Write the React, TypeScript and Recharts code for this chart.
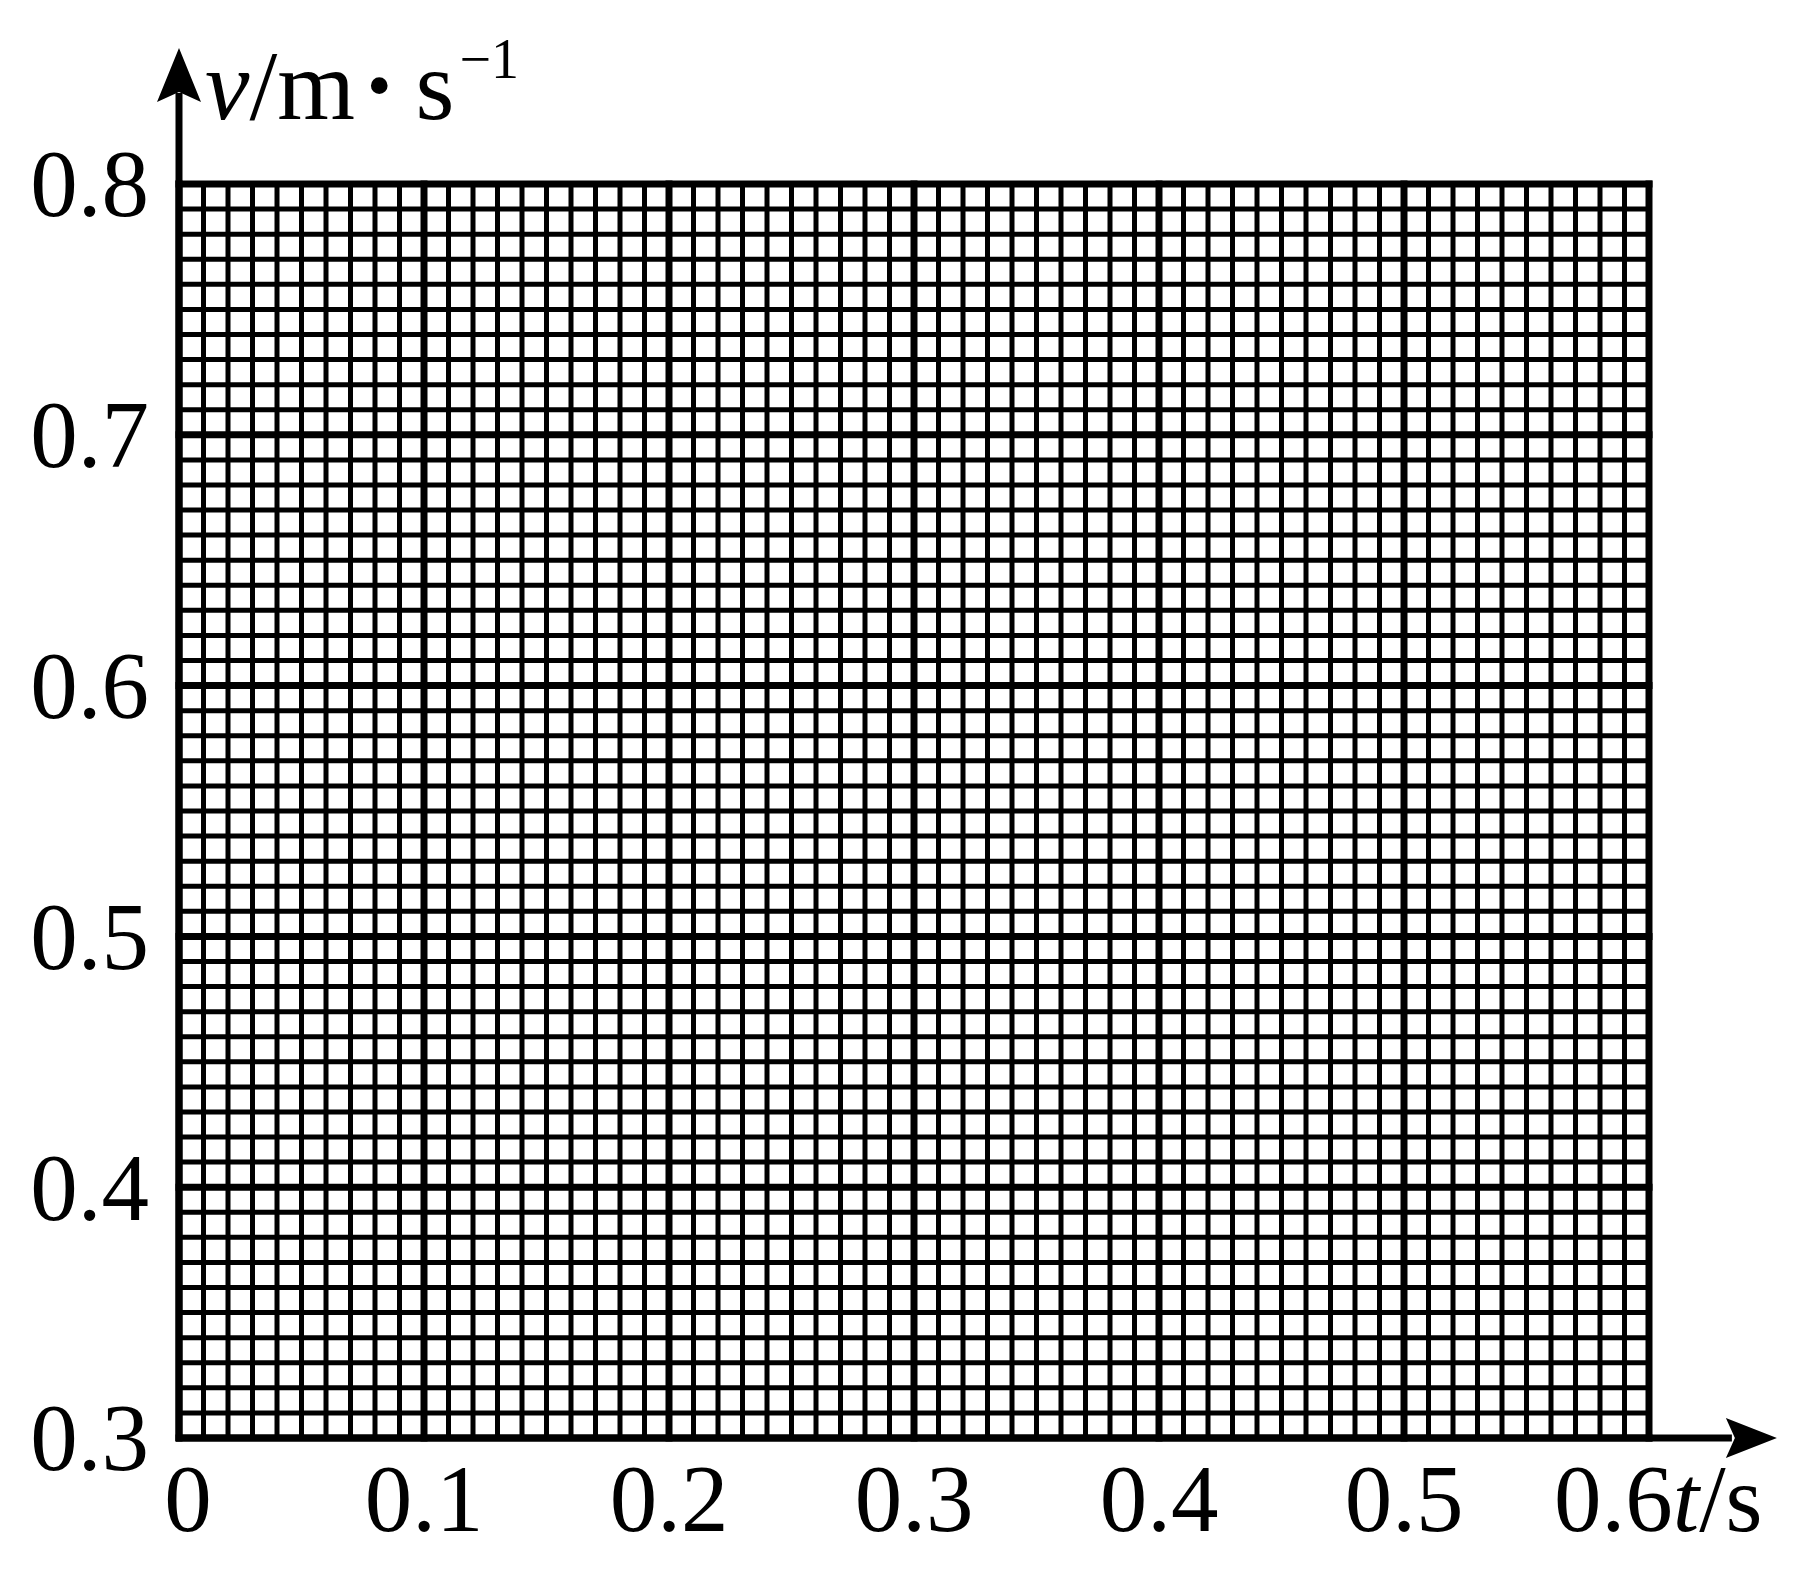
import React from 'react';
import { ComposedChart, XAxis, YAxis, ReferenceLine } from 'recharts';

// Axis tick labels (major divisions)
const xTicks = [0, 0.1, 0.2, 0.3, 0.4, 0.5, 0.6];
const yTicks = [0.3, 0.4, 0.5, 0.6, 0.7, 0.8];
const xDomain: [number, number] = [0, 0.6];
const yDomain: [number, number] = [0.3, 0.8];
// Minor grid step (one small square)
const xMinorStep = 0.01;
const yMinorStep = 0.01;
// Arrow tips of the axes, in data units
const xArrowEnd = 0.6522;
const yArrowEnd = 0.8542;

const round = (v: number) => Math.round(v * 1000) / 1000;
const xMinor = Array.from({ length: Math.round((xDomain[1] - xDomain[0]) / xMinorStep) + 1 }, (_, i) => round(xDomain[0] + i * xMinorStep));
const yMinor = Array.from({ length: Math.round((yDomain[1] - yDomain[0]) / yMinorStep) + 1 }, (_, i) => round(yDomain[0] + i * yMinorStep));

const FONT = '"Liberation Serif", "Times New Roman", serif';
const INK = '#000';
const FS = 95;

const XTick = (props: any) => {
  const { x, y, payload } = props;
  const v = payload.value as number;
  const base = y + 93;
  if (Math.abs(v - 0.6) < 1e-9) {
    return (
      <text x={x - 95} y={base} fontFamily={FONT} fontSize={FS} fill={INK} textAnchor="start">
        <tspan>0.6</tspan>
        <tspan fontStyle="italic">t</tspan>
        <tspan>/s</tspan>
      </text>
    );
  }
  return (
    <text x={v === 0 ? x + 9 : x} y={base} fontFamily={FONT} fontSize={FS} fill={INK} textAnchor="middle">
      {v === 0 ? '0' : v.toFixed(1)}
    </text>
  );
};

const YTick = (props: any) => {
  const { x, y, payload } = props;
  return (
    <text x={x - 30} y={y} dy="0.34em" fontFamily={FONT} fontSize={FS} fill={INK} textAnchor="end">
      {(payload.value as number).toFixed(1)}
    </text>
  );
};

const YLabel = (props: any) => {
  const vb = props.viewBox || { x: 0, y: 184, width: 179 };
  const x0 = vb.x + vb.width + 26;
  const y0 = vb.y - 65;
  return (
    <text x={x0} y={y0} fontFamily={FONT} fontSize={100} fill={INK}>
      <tspan fontStyle="italic">v</tspan>
      <tspan>/m</tspan>
      <tspan fontSize={70} dx={12} dy={-10}>•</tspan>
      <tspan dx={24} dy={10}>s</tspan>
      <tspan fontSize={56} dx={5} dy={-41}>−1</tspan>
    </text>
  );
};

const XArrow = (p: any) => {
  const { x1, y1, x2 } = p;
  return (
    <g>
      <line x1={x1 - 3} y1={y1} x2={x2 - 45} y2={y1} stroke={INK} strokeWidth={7} />
      <polygon points={`${x2},${y1} ${x2 - 51},${y1 - 20} ${x2 - 42},${y1} ${x2 - 51},${y1 + 20}`} fill={INK} />
    </g>
  );
};

const YArrow = (p: any) => {
  const { x1, y1, y2 } = p;
  const top = Math.min(y1, y2);
  const bottom = Math.max(y1, y2);
  return (
    <g>
      <line x1={x1} y1={bottom + 3} x2={x1} y2={top + 45} stroke={INK} strokeWidth={7} />
      <polygon points={`${x1},${top} ${x1 - 22},${top + 54} ${x1},${top + 44} ${x1 + 22},${top + 54}`} fill={INK} />
    </g>
  );
};

export default function App() {
  return (
    <div style={{ position: 'absolute', left: 0, top: 0, width: 1812, height: 1572, background: '#fff' }}>
      <ComposedChart width={1812} height={1572} data={[]} margin={{ top: 184, right: 163, bottom: 0, left: 0 }}>
        <XAxis
          type="number"
          dataKey="t"
          domain={xDomain}
          ticks={xTicks}
          interval={0}
          allowDataOverflow
          axisLine={false}
          tickLine={false}
          tickSize={0}
          tickMargin={0}
          height={134}
          tick={<XTick />}
        />
        <YAxis
          type="number"
          dataKey="v"
          domain={yDomain}
          ticks={yTicks}
          interval={0}
          allowDataOverflow
          axisLine={false}
          tickLine={false}
          tickSize={0}
          tickMargin={0}
          width={179}
          tick={<YTick />}
          label={(p: any) => <YLabel {...p} />}
        />
        {xMinor.map((v) => (
          <ReferenceLine key={`xm${v}`} x={v} stroke={INK} strokeWidth={5} />
        ))}
        {yMinor.map((v) => (
          <ReferenceLine key={`ym${v}`} y={v} stroke={INK} strokeWidth={5} />
        ))}
        {xTicks.map((v) => (
          <ReferenceLine key={`xM${v}`} x={v} stroke={INK} strokeWidth={7} strokeLinecap="square" />
        ))}
        {yTicks.map((v) => (
          <ReferenceLine key={`yM${v}`} y={v} stroke={INK} strokeWidth={7} strokeLinecap="square" />
        ))}
        <ReferenceLine
          segment={[{ x: xDomain[0], y: yDomain[0] }, { x: xArrowEnd, y: yDomain[0] }]}
          ifOverflow="visible"
          shape={(p: any) => <XArrow {...p} />}
        />
        <ReferenceLine
          segment={[{ x: xDomain[0], y: yDomain[0] }, { x: xDomain[0], y: yArrowEnd }]}
          ifOverflow="visible"
          shape={(p: any) => <YArrow {...p} />}
        />
      </ComposedChart>
    </div>
  );
}
